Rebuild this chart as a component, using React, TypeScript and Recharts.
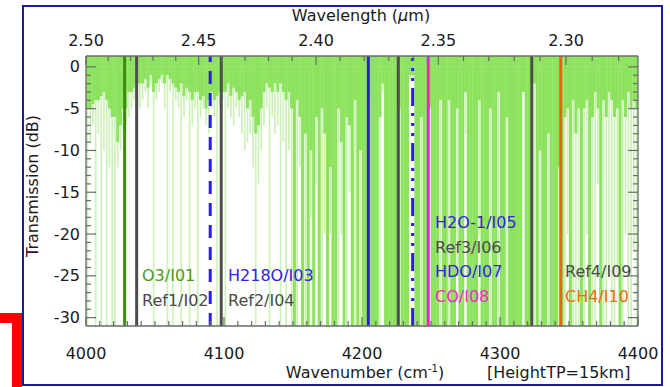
import React from 'react';
import { ComposedChart, Bar, XAxis, YAxis, ReferenceLine, Scatter } from 'recharts';

// spectrum sampled in 2 cm-1 bins from 4000 to 4400
const binStart = 4000;
const binWidth = 2;

// bright green: main absorption depth (dB) per bin
const strongDepth = [
  -5, -5, -4.5, -4, -4, -3.5, -3, -4, -5, -6,
  -6, -9, -7, -5, -5, -3, -3, -2.5, -2, -2,
  -2, -1.5, -2.5, -1, -3, -2, -1.5, -1, -2, -1,
  -1.5, -2, -2.5, -3, -2, -3.5, -2.5, -3, -4, -3,
  -3, -4, -3.5, -5, -4, -3, -4, -3.5, -3, -3,
  -3, -2, -3.5, -2.5, -3, -4, -3.5, -3, -5, -4,
  -6, -8, -7, -5, -3, -2, -2.5, -3, -2, -3,
  -2, -3, -4, -3, -5, -31, -4, -6, -31, -8,
  -31, -10, -31, -6, -31, -5, -8, -31, -12, -31,
  -31, -5, -9, -31, -6, -7, -31, -4, -31, -10,
  -31, -31, -4, -31, -31, -31, -6, -2, -31, -31,
  -31, -31, -31, -5, -31, -31, -31, -1, -1, -31,
  -31, -6, -31, -31, -5, -31, -31, -31, -4, -31,
  -31, -4, -31, -31, -5, -31, -31, -3, -31, -31,
  -31, -31, -4, -31, -31, -31, -5, -31, -31, -3,
  -31, -31, -6, -31, -31, -31, -31, -31, -3, -31,
  -31, -2, -2, -31, -10, -31, -31, -8, -31, -31,
  -31, -12, -31, -6, -5, -31, -4, -8, -5, -31,
  -5, -4, -31, -6, -3, -5, -31, -4, -6, -3,
  -4, -6, -5, -31, -4, -6, -3, -5, -4, -5,
];

// light green: weaker / thinner lines reaching deeper
const weakDepth = [
  -31, -9, -7, -31, -8, -31, -10, -31, -12, -31,
  -31, -12, -10, -8, -7, -6, -5, -4, -31, -5,
  -4, -3, -5, -2, -31, -4, -3, -2, -5, -31,
  -3, -31, -4, -5, -31, -6, -4, -31, -7, -5,
  -31, -6, -5, -7, -8, -5, -6, -31, -5, -4,
  -31, -5, -6, -7, -5, -6, -8, -10, -9, -8,
  -12, -31, -14, -10, -7, -5, -31, -6, -8, -7,
  -31, -9, -31, -10, -31, -31, -31, -12, -31, -31,
  -31, -18, -31, -14, -31, -31, -20, -31, -20, -31,
  -31, -31, -20, -31, -31, -15, -31, -31, -31, -31,
  -31, -31, -31, -31, -31, -31, -31, -3, -31, -31,
  -31, -31, -31, -31, -31, -31, -31, -1.5, -1.5, -31,
  -31, -31, -31, -31, -31, -31, -31, -31, -31, -31,
  -31, -31, -31, -31, -25, -31, -31, -8, -31, -31,
  -31, -31, -20, -31, -31, -31, -31, -31, -31, -31,
  -31, -31, -31, -31, -31, -31, -31, -31, -3, -31,
  -31, -4, -31, -31, -31, -31, -31, -31, -31, -31,
  -31, -31, -31, -31, -20, -31, -31, -31, -31, -31,
  -31, -20, -31, -31, -31, -14, -31, -31, -31, -25,
  -31, -31, -25, -31, -31, -20, -31, -31, -22, -31,
];

const xMajor = [4000, 4100, 4200, 4300, 4400];
const wavelengthMajor = [2.5, 2.45, 2.4, 2.35, 2.3];
const yMajor = [0, -5, -10, -15, -20, -25, -30];

const channelWavenumber = [4028, 4036.7, 4090, 4098, 4204.6, 4226.3, 4236.7, 4248, 4323, 4344];
const channelName = ['O3/I01', 'Ref1/I02', 'H218O/I03', 'Ref2/I04', 'H2O-1/I05', 'Ref3/I06', 'HDO/I07', 'CO/I08', 'Ref4/I09', 'CH4/I10'];
const labelWavenumber = [4040.6, 4040.6, 4102.9, 4102.9, 4252.9, 4252.9, 4252.9, 4252.9, 4347.1, 4347.1];
const labelDb = [-25, -27.9, -25, -27.9, -18.6, -21.6, -24.5, -27.5, -24.5, -27.5];

const Y_TOP = 1.3;
const Y_BOTTOM = -31;

const PLOT = { left: 86, right: 638, top: 56, bottom: 326 };
const BIN_PX = ((PLOT.right - PLOT.left) / 400) * binWidth;
const AXIS = '#6a6a6a';
const FONT = '"DejaVu Sans", sans-serif';
const BRIGHT = '#8de35e';
const LIGHT = '#ccf2b8';

const lineColor = ['#3d8a0c', '#4d4d4d', '#2a1ee6', '#4d4d4d', '#2a1ee6', '#4d4d4d', '#2a1ee6', '#ff1fcf', '#4d4d4d', '#ee630c'];
const lineDash = ['', '', '13 9', '', '', '', '18 7 3 7 3 7 3 7', '', '', ''];
const textColor = ['#4b9a1b', '#4a4a4a', '#3322e0', '#4a4a4a', '#3322e0', '#4a4a4a', '#3322e0', '#ff22d0', '#4a4a4a', '#ee6a12'];

// one stacked bar per bin: bright strip above 0, bright down to strongDepth, light down to weakDepth
const data = strongDepth.map((s, i) => ({
  wn: binStart + binWidth * i + binWidth / 2,
  above: Y_TOP,
  strong: s,
  weakExtra: Math.min(weakDepth[i] - s, 0),
}));

const labels = channelName.map((name, i) => ({
  wn: labelWavenumber[i],
  db: labelDb[i],
  name,
  color: textColor[i],
}));

const xTicks: number[] = [];
for (let v = 4000; v <= 4400; v += 10) xTicks.push(v);
const wlTicks: number[] = [];
for (let w = 250; w >= 228; w--) wlTicks.push(10000 / (w / 100));
const yTicks: number[] = [];
for (let v = -30; v <= 0; v++) yTicks.push(v);

const tickText = { fontFamily: FONT, fontSize: 16, fill: '#1a1a1a' };

// bar drawn at bin width (light lines thinner), centred on the position from the scale
function SpecBar(props: any) {
  const { x, y, width, height, fill, thin } = props;
  if (x == null || y == null || !height) return null;
  const cx = x + width / 2;
  const w = thin ? BIN_PX * 0.6 : BIN_PX + 0.3;
  const top = Math.min(y, y + height);
  return <rect x={cx - w / 2} y={top} width={w} height={Math.abs(height)} fill={fill} />;
}

function BottomTick(props: any) {
  const { x, payload } = props;
  const v = payload.value;
  const major = xMajor.includes(v);
  return (
    <g>
      <line x1={x} x2={x} y1={PLOT.bottom} y2={PLOT.bottom - (major ? 9 : 5)} stroke={AXIS} strokeWidth={1.2} />
      {major && (
        <text x={x} y={353} textAnchor="middle" dominantBaseline="central" {...tickText}>
          {v}
        </text>
      )}
    </g>
  );
}

function TopTick(props: any) {
  const { x, payload } = props;
  const wl = Math.round(1000000 / payload.value) / 100;
  const major = wavelengthMajor.some((m) => Math.abs(m - wl) < 1e-6);
  return (
    <g>
      <line x1={x} x2={x} y1={PLOT.top} y2={PLOT.top + (major ? 9 : 5)} stroke={AXIS} strokeWidth={1.2} />
      {major && (
        <text x={x} y={40} textAnchor="middle" dominantBaseline="central" {...tickText}>
          {wl.toFixed(2)}
        </text>
      )}
    </g>
  );
}

function LeftTick(props: any) {
  const { y, payload } = props;
  const v = payload.value;
  const major = yMajor.includes(v);
  return (
    <g>
      <line x1={PLOT.left} x2={PLOT.left + (major ? 10 : 5)} y1={y} y2={y} stroke={AXIS} strokeWidth={1.2} />
      {major && (
        <text x={80} y={y} textAnchor="end" dominantBaseline="central" {...tickText}>
          {v}
        </text>
      )}
    </g>
  );
}

function RightTick(props: any) {
  const { y, payload } = props;
  const major = yMajor.includes(payload.value);
  return (
    <line x1={PLOT.right} x2={PLOT.right - (major ? 10 : 5)} y1={y} y2={y} stroke={AXIS} strokeWidth={1.2} />
  );
}

function LabelShape(props: any) {
  const { cx, cy, payload } = props;
  return (
    <text x={cx} y={cy} dominantBaseline="central" fontFamily={FONT} fontSize={16} fill={payload.color}>
      {payload.name}
    </text>
  );
}

export default function App() {
  return (
    <div style={{ position: 'absolute', left: 0, top: 0, width: 670, height: 387, overflow: 'hidden', background: '#fff', fontFamily: FONT, color: '#1a1a1a' }}>
      <ComposedChart width={670} height={387} data={data} margin={{ top: 26, right: 12, bottom: 31, left: 26 }}
        stackOffset="sign" barGap={0} barCategoryGap={0}>
        <XAxis xAxisId="b" dataKey="wn" type="number" domain={[4000, 4400]} allowDataOverflow ticks={xTicks} interval={0}
          tick={<BottomTick />} tickLine={false} height={30} axisLine={{ stroke: AXIS, strokeWidth: 1.3 }} />
        <XAxis xAxisId="t" dataKey="wn" type="number" orientation="top" domain={[4000, 4400]} allowDataOverflow ticks={wlTicks} interval={0}
          tick={<TopTick />} tickLine={false} height={30} axisLine={{ stroke: AXIS, strokeWidth: 1.3 }} />
        <YAxis yAxisId="l" type="number" domain={[Y_BOTTOM, Y_TOP]} allowDataOverflow ticks={yTicks} interval={0}
          tick={<LeftTick />} tickLine={false} width={60} axisLine={{ stroke: AXIS, strokeWidth: 1.3 }} />
        <YAxis yAxisId="r" orientation="right" type="number" domain={[Y_BOTTOM, Y_TOP]} allowDataOverflow ticks={yTicks} interval={0}
          tick={<RightTick />} tickLine={false} width={20} axisLine={{ stroke: AXIS, strokeWidth: 1.3 }} />

        <Bar xAxisId="b" yAxisId="l" stackId="spec" dataKey="above" fill={BRIGHT} shape={<SpecBar />} isAnimationActive={false} />
        <Bar xAxisId="b" yAxisId="l" stackId="spec" dataKey="strong" fill={BRIGHT} shape={<SpecBar />} isAnimationActive={false} />
        <Bar xAxisId="b" yAxisId="l" stackId="spec" dataKey="weakExtra" fill={LIGHT} shape={<SpecBar thin />} isAnimationActive={false} />

        {channelWavenumber.map((wn, i) => (
          <ReferenceLine key={channelName[i]} xAxisId="b" yAxisId="l" x={wn} stroke={lineColor[i]} strokeWidth={3}
            strokeDasharray={lineDash[i] || undefined} />
        ))}

        <Scatter xAxisId="b" yAxisId="l" data={labels} dataKey="db" shape={<LabelShape />} isAnimationActive={false} />
      </ComposedChart>

      <div style={{ position: 'absolute', left: 211, width: 300, top: 6, lineHeight: '20px', textAlign: 'center', fontSize: 16 }}>
        Wavelength (<span style={{ fontStyle: 'italic' }}>µ</span>m)
      </div>
      <div style={{ position: 'absolute', left: 215, width: 300, top: 363, lineHeight: '20px', textAlign: 'center', fontSize: 16 }}>
        Wavenumber (cm<sup style={{ fontSize: 10, lineHeight: 0 }}>-1</sup>)
      </div>
      <div style={{ position: 'absolute', left: 487, top: 363, lineHeight: '20px', fontSize: 16 }}>
        [HeightTP=15km]
      </div>
      <div style={{ position: 'absolute', left: 33, top: 186, width: 0, height: 0 }}>
        <div style={{ position: 'absolute', left: -100, top: -10, width: 200, lineHeight: '20px', textAlign: 'center', fontSize: 16, transform: 'rotate(-90deg)' }}>
          Transmission (dB)
        </div>
      </div>

      <div style={{ position: 'absolute', left: 22, top: 5, width: 641, height: 381, border: '2.5px solid #1c1c8e', boxSizing: 'border-box', pointerEvents: 'none' }} />
      <div style={{ position: 'absolute', left: -30, top: 313, width: 52, height: 120, border: '10px solid #ff0000', boxSizing: 'border-box' }} />
    </div>
  );
}
